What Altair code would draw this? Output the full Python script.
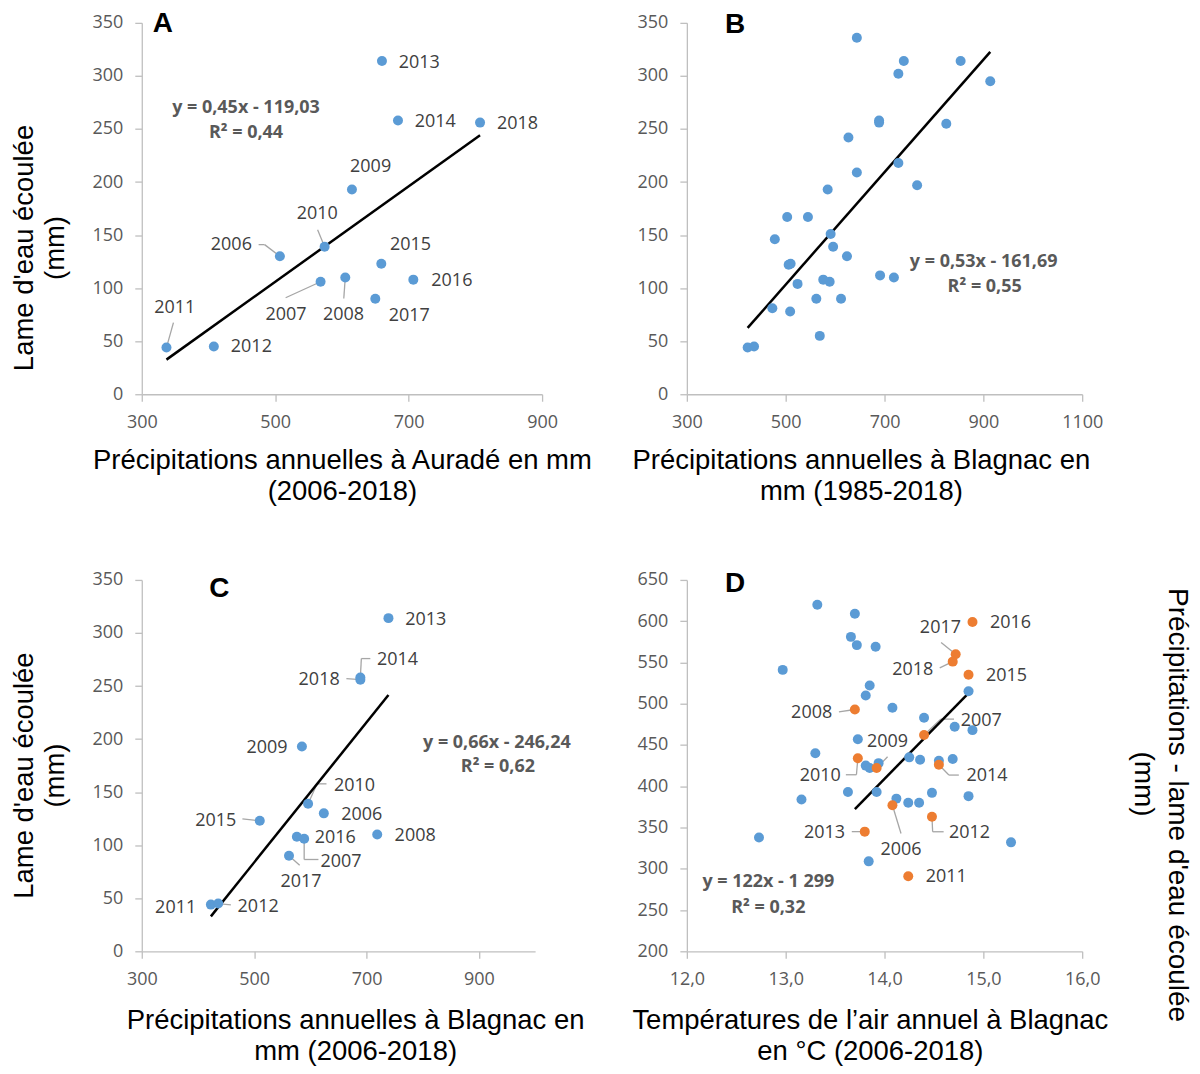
import altair as alt
import pandas as pd

# ---------------- data ----------------
YEARS = [2006, 2007, 2008, 2009, 2010, 2011, 2012, 2013, 2014, 2015, 2016, 2017, 2018]
RUNOFF = [130, 106, 110, 193, 139, 44, 45, 314, 258, 123, 108, 90, 256]

# Panel A : Auradé precipitation (2006-2018)
A_PRECIP = [507, 568, 605, 615, 574, 337, 408, 660, 684, 659, 707, 650, 807]
A_COEF = [0.45, -119.03]
A_EQ = ["y = 0,45x - 119,03", "R² = 0,44"]

# Panel B : Blagnac precipitation (1985-2018)
B_PRECIP = [473, 478, 509, 503, 506, 524, 545, 569, 591, 612, 627, 644, 644, 691,
            728, 728, 766, 825, 854, 914,
            624, 589, 719, 585, 596, 423, 436, 739, 689, 510, 576, 562, 689]
B_RUNOFF = [81, 146, 78, 167, 122, 104, 167, 55, 151, 90, 242, 336, 209, 112,
            302, 218, 197, 255, 314, 295,
            130, 106, 110, 193, 139, 44, 45, 314, 258, 123, 108, 90, 256]
B_COEF = [0.53, -161.69]
B_EQ = ["y = 0,53x - 161,69", "R² = 0,55"]

# Panel C : Blagnac precipitation (2006-2018)
C_PRECIP = [624, 589, 719, 585, 596, 423, 436, 739, 689, 510, 576, 562, 689]
C_COEF = [0.66, -246.24]
C_EQ = ["y = 0,66x - 246,24", "R² = 0,62"]

# Panel D : air temperature vs (precipitation - runoff)
D_TEMP_OTHER = [13.32, 13.70, 13.66, 13.72, 13.91, 12.97, 13.85, 13.81, 14.08, 14.40,
                14.71, 14.89, 14.85, 13.73, 13.30, 13.81, 13.85, 13.94, 14.25, 14.36,
                14.55, 14.69, 13.63, 13.92, 14.12, 14.24, 14.35, 14.48, 14.85, 13.16,
                12.73, 13.84, 15.28]
D_DEF_OTHER = [620, 609, 581, 571, 569, 541, 522, 510, 495, 483,
               472, 468, 515, 457, 440, 425, 422, 428, 435, 432,
               431, 433, 393, 393, 385, 380, 380, 392, 388, 384,
               338, 309, 332]
D_TEMP = [14.08, 14.40, 13.70, 13.92, 13.73, 14.24, 14.48, 13.80, 14.55, 14.85, 14.89, 14.72, 14.69]
D_DEF = [377, 462, 493, 422, 434, 291, 363, 345, 426, 535, 599, 560, 551]
D_COEF = [122, -1299]
D_EQ = ["y = 122x - 1 299", "R² = 0,32"]

# label offsets (pixels from the point) and leader paths (pixels from the point)
A_LAB = {2006: (-48.6, -11), 2007: (-34.6, 33), 2008: (-1.7, 38), 2009: (18.7, -22.4),
         2010: (-7.3, -32.6), 2011: (8.3, -40), 2012: (37.6, 1), 2013: (37.3, 1.7),
         2014: (37.3, 1.6), 2015: (29.3, -18.3), 2016: (38.6, 1), 2017: (34, 17.3),
         2018: (37.6, 1.7)}
A_LEAD = {2011: [(7, -25)], 2006: [(-21.3, -11.7), (-15.3, -11.7)], 2010: [(-7, -17)],
          2007: [(-35, 16)], 2008: [(-1.5, 21)]}
C_LAB = {2006: (38, 1.4), 2007: (37, 23), 2008: (38, 1), 2009: (-35, 1), 2010: (46.4, -18.3),
         2011: (-35.3, 3.7), 2012: (40, 3.6), 2013: (37.4, 1.4), 2014: (37.3, -17.3),
         2015: (-44, 0), 2016: (38.4, 1.7), 2017: (12, 26.7), 2018: (-41.3, 0.7)}
C_LEAD = {2014: [(10, -19), (1, -19)], 2018: [(-14, -1)], 2010: [(18.4, -20), (9, -20)],
          2015: [(-17.4, -2)], 2007: [(14.3, 20.7), (0, 20.7)], 2017: [(10.7, 9.4)],
          2012: [(12.7, 1.3)]}
D_LAB = {2006: (8.6, 45), 2007: (57.3, -14.4), 2008: (-43.3, 3.3), 2009: (11, -26.4),
         2010: (-37.7, 17.6), 2011: (38, 0.6), 2012: (37.7, 16.7), 2013: (-40.3, 1.7),
         2014: (48.3, 11.3), 2015: (38, 1), 2016: (38, 0.6), 2017: (-15.3, -26.7),
         2018: (-40, 8.3)}
D_LEAD = {2017: [(-14.6, -11.7)], 2018: [(-13, 6.3)], 2008: [(-16, 2.3)],
          2007: [(30, -16), (16.7, -16)], 2009: [(11, -11.4)], 2010: [(-12, 16.6), (-1.4, 16.6)],
          2014: [(20, 10.3), (10, 10.3)], 2006: [(8.6, 28.3)], 2012: [(11.7, 15), (0.7, 15)],
          2013: [(-13, 0)]}

BLUE = "#5B9BD5"
ORANGE = "#ED7D31"
TICK_FONT = "Open Sans"
TITLE_FONT = "Liberation Sans"
H = 372


def label_df(xs, ys, offs, sx, sy):
    rows = []
    for yr, (dx, dy) in offs.items():
        i = YEARS.index(yr)
        rows.append({"x": xs[i] + dx / sx, "y": ys[i] - dy / sy, "t": str(yr)})
    return pd.DataFrame(rows)


def leader_df(xs, ys, leads, sx, sy):
    rows = []
    for yr, path in leads.items():
        i = YEARS.index(yr)
        px, py = xs[i], ys[i]
        pts = list(path) + [(0, 0)]
        for (a, b), (c, d) in zip(pts[:-1], pts[1:]):
            rows.append({"x": px + a / sx, "y": py - b / sy, "x2": px + c / sx, "y2": py - d / sy})
    return pd.DataFrame(rows)


def text_layer(txt, px, py, **kw):
    return alt.Chart(pd.DataFrame({"t": [txt]})).mark_text(**kw).encode(
        x=alt.value(px), y=alt.value(py), text="t:N")


def panel(w, xdom, xvals, ydom, yvals, xaxis, yaxis, groups, fitx, coef,
          lab_xy, lab_offs, leads, eq, eq_pos, letter, letter_pos, extra=()):
    sx = w / (xdom[1] - xdom[0])
    sy = H / (ydom[1] - ydom[0])
    X = alt.X("x:Q", scale=alt.Scale(domain=xdom, nice=False, zero=False),
              axis=alt.Axis(values=xvals, labelFlush=False, labelOverlap=False, **xaxis))
    Y = alt.Y("y:Q", scale=alt.Scale(domain=ydom, nice=False, zero=False),
              axis=alt.Axis(values=yvals, format="d", labelOverlap=False, **yaxis))
    layers = []
    ld = leader_df(lab_xy[0], lab_xy[1], leads, sx, sy)
    layers.append(alt.Chart(ld).mark_rule(color="#A6A6A6", strokeWidth=1.3).encode(
        x=X, y=Y, x2="x2:Q", y2="y2:Q"))
    lo, hi = min(fitx), max(fitx)
    tdf = pd.DataFrame({"x": [lo, hi], "y": [coef[0] * lo + coef[1], coef[0] * hi + coef[1]]})
    layers.append(alt.Chart(tdf).mark_line(color="black", strokeWidth=2.5).encode(x=X, y=Y))
    for xs, ys, col in groups:
        layers.append(alt.Chart(pd.DataFrame({"x": xs, "y": ys})).mark_circle(
            size=100, opacity=1, color=col).encode(x=X, y=Y))
    layers.append(alt.Chart(label_df(lab_xy[0], lab_xy[1], lab_offs, sx, sy)).mark_text(
        font=TICK_FONT, fontSize=18, color="#404040", align="center", baseline="middle"
    ).encode(x=X, y=Y, text="t:N"))
    for line, (px, py) in zip(eq, eq_pos):
        layers.append(text_layer(line, px, py, font=TICK_FONT, fontSize=18, fontWeight="bold",
                                 color="#595959", align="center", baseline="middle"))
    layers.append(text_layer(letter, letter_pos[0], letter_pos[1], font=TITLE_FONT, fontSize=28,
                             fontWeight="bold", color="black", align="left", baseline="top"))
    for (txt, px, py) in extra:
        layers.append(text_layer(txt, px, py, font=TITLE_FONT, fontSize=28, color="black",
                                 angle=90, align="center", baseline="middle"))
    return alt.layer(*layers).properties(width=w, height=H)


Y_TITLE = ["Lame d'eau écoulée", "(mm)"]
common_y = dict(titleAngle=270, titleBaseline="alphabetic", titleAlign="center", titleX=-109)
common_x = dict(titleBaseline="alphabetic", titleAlign="center")

chart_a = panel(
    401, [300, 900], [300, 500, 700, 900], [0, 350], list(range(0, 351, 50)),
    dict(format="d", title=["Précipitations annuelles à Auradé en mm", "(2006-2018)"],
         titleX=200.5, titleY=74, **common_x),
    dict(title=Y_TITLE, titleY=225, **common_y),
    [(A_PRECIP, RUNOFF, BLUE)], A_PRECIP, A_COEF,
    (A_PRECIP, RUNOFF), A_LAB, A_LEAD, A_EQ, [(104.4, 85), (104.4, 110.7)],
    "A", (11, -13.1))

chart_b = panel(
    396, [300, 1100], [300, 500, 700, 900, 1100], [0, 350], list(range(0, 351, 50)),
    dict(format="d", title=["Précipitations annuelles à Blagnac en", "mm (1985-2018)"],
         titleX=174.3, titleY=74, **common_x),
    dict(title=None),
    [(B_PRECIP, B_RUNOFF, BLUE)], B_PRECIP, B_COEF,
    (C_PRECIP, RUNOFF), {}, {}, B_EQ, [(297.3, 239.7), (298.3, 265)],
    "B", (38.3, -11.4))

chart_c = panel(
    394, [300, 1000], [300, 500, 700, 900], [0, 350], list(range(0, 351, 50)),
    dict(format="d", title=["Précipitations annuelles à Blagnac en", "mm (2006-2018)"],
         titleX=213.7, titleY=77.5, **common_x),
    dict(title=Y_TITLE, titleY=195.5, **common_y),
    [(C_PRECIP, RUNOFF, BLUE)], C_PRECIP, C_COEF,
    (C_PRECIP, RUNOFF), C_LAB, C_LEAD, C_EQ, [(355.7, 163.5), (356.7, 187.5)],
    "C", (67.7, -4.9))

chart_d = panel(
    396, [12, 16], [12, 13, 14, 15, 16], [200, 650], list(range(200, 651, 50)),
    dict(labelExpr="replace(format(datum.value, '.1f'), '.', ',')",
         title=["Températures de l’air annuel à Blagnac", "en °C (2006-2018)"],
         titleX=183.3, titleY=77.5, **common_x),
    dict(title=None),
    [(D_TEMP_OTHER, D_DEF_OTHER, BLUE), (D_TEMP, D_DEF, ORANGE)], D_TEMP, D_COEF,
    (D_TEMP, D_DEF), D_LAB, D_LEAD, D_EQ, [(81.6, 302.8), (81.6, 328.8)],
    "D", (38.3, -9.9),
    extra=[("Précipitations - lame d'eau écoulée", 491.3, 225.5), ("(mm)", 456.8, 204.5)])

chart = alt.concat(
    chart_a, chart_b, chart_c, chart_d, columns=2, align="each",
    spacing=alt.RowColnumber(row=65, column=38),
).properties(
    padding={"left": 3, "top": 0, "right": 0, "bottom": 0},
    background="white",
).configure_view(stroke=None).configure_axis(
    grid=False, domainColor="#BFBFBF", tickColor="#BFBFBF", domainWidth=1.3, tickWidth=1.3,
    tickSize=7, labelFont=TICK_FONT, labelFontSize=18, labelColor="#595959", labelPadding=12,
    titleFont=TITLE_FONT, titleFontSize=27.5, titleFontWeight="normal", titleColor="black",
    titleLineHeight=31,
).configure_axisY(minExtent=52, maxExtent=52)

chart.save("out.html", embed_options={"renderer": "svg", "actions": False})
